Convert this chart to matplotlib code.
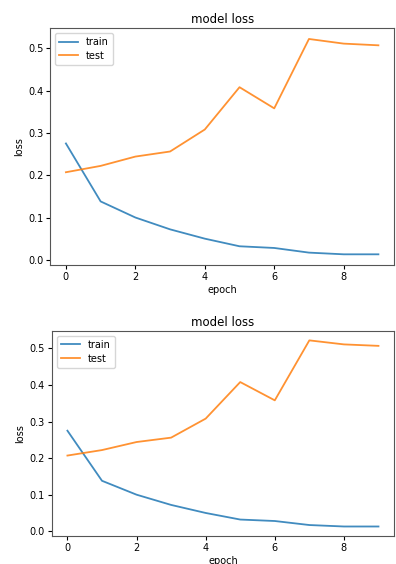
import matplotlib
matplotlib.use("Agg")
import matplotlib.pyplot as plt

epochs = list(range(10))
train_loss = [0.275, 0.138, 0.100, 0.072, 0.050, 0.032, 0.028, 0.017, 0.013, 0.013]
test_loss = [0.207, 0.222, 0.244, 0.256, 0.308, 0.408, 0.358, 0.522, 0.511, 0.507]

plt.rcParams['font.size'] = 7

fig = plt.figure(figsize=(3.96, 5.64), dpi=100)

# two copies of the same history plot, stacked
positions = [[0.127, 0.530, 0.868, 0.420],
             [0.131, 0.050, 0.864, 0.363]]

for pos in positions:
    ax = fig.add_axes(pos)
    ax.plot(epochs, train_loss, color='#1f77b4', lw=1.3, alpha=0.85)
    ax.plot(epochs, test_loss, color='#ff7f0e', lw=1.3, alpha=0.85)
    ax.set_title('model loss', fontsize=8.5, pad=4)
    ax.set_ylabel('loss', fontsize=7, labelpad=3)
    ax.set_xlabel('epoch', fontsize=7, labelpad=2)
    ax.set_xticks([0, 2, 4, 6, 8])
    ax.tick_params(labelsize=7, length=3, pad=2)
    for s in ax.spines.values():
        s.set_color('#555555')
    ax.legend(['train', 'test'], loc='upper left', fontsize=7,
              handlelength=2, borderpad=0.4, labelspacing=0.4)

fig.savefig('out.png', dpi=100)
